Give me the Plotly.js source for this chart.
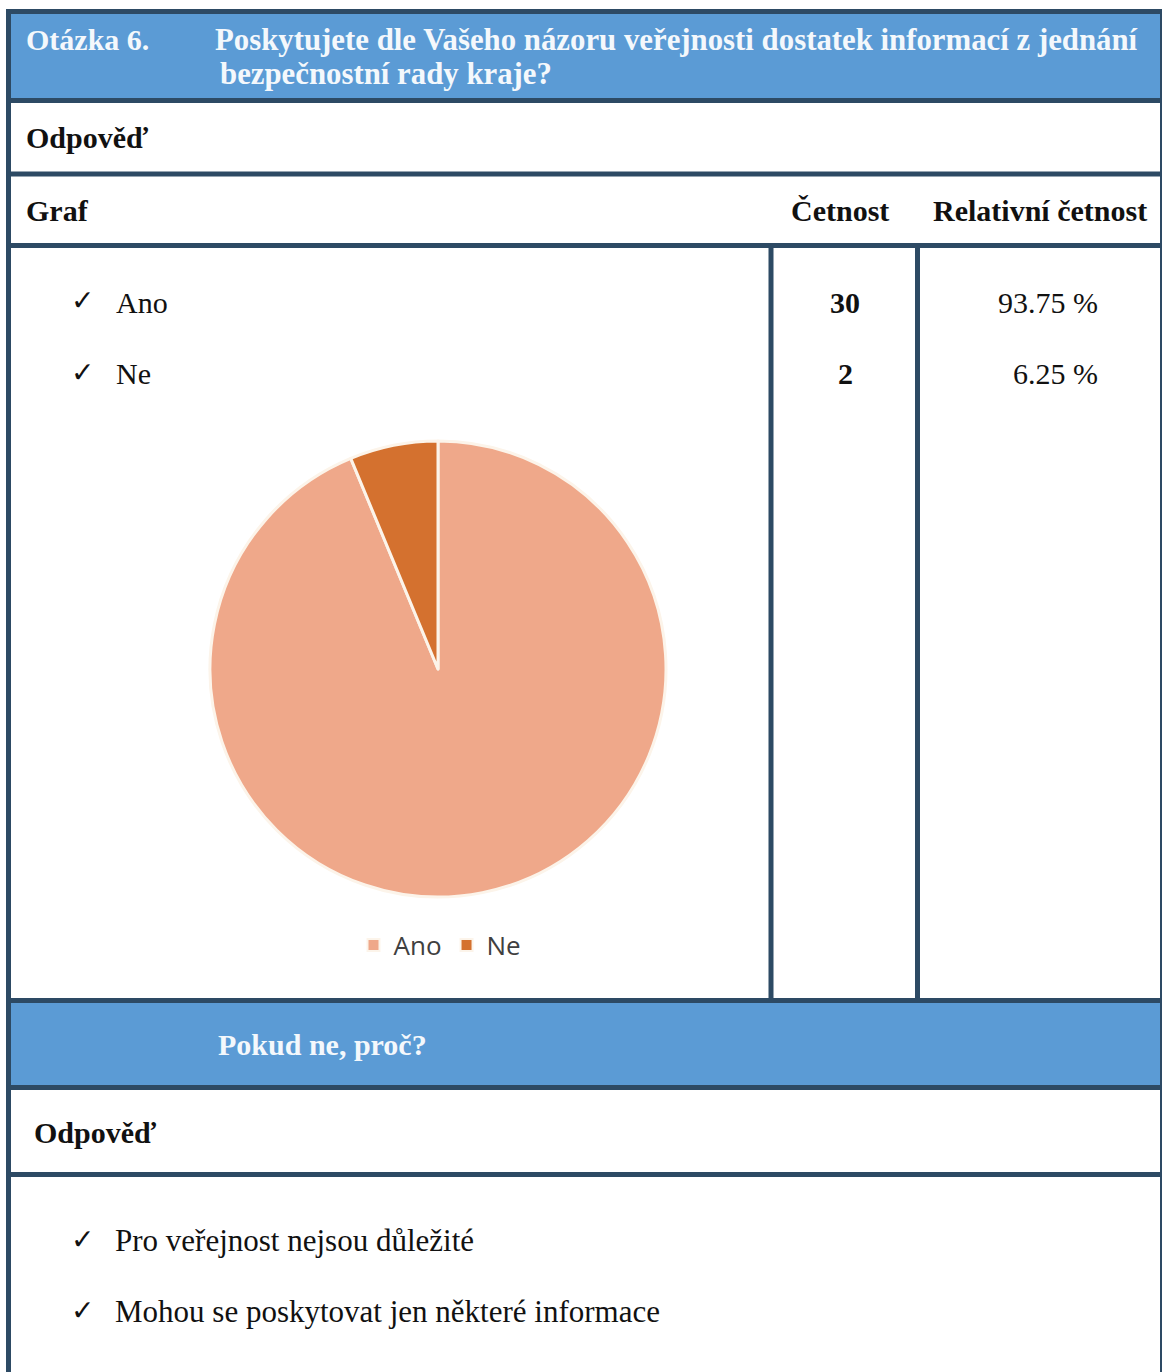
<!DOCTYPE html>
<html><head><meta charset="utf-8">
<script src="https://cdn.plot.ly/plotly-3.0.1.min.js"></script>
<style>html,body{margin:0;padding:0;background:#fff;overflow:hidden}#chart{width:1162px;height:1372px}</style>
</head><body><div id="chart"></div>
<script>
// ---- data ----
const questionNo = "Otázka 6.";
const questionLines = ["Poskytujete dle Vašeho názoru veřejnosti dostatek informací z jednání", "bezpečnostní rady kraje?"];
const answerLabel = "Odpověď";
const graphLabel = "Graf";
const countHeader = "Četnost";
const relHeader = "Relativní četnost";
const categories = ["Ano", "Ne"];
const counts = [30, 2];
const relative = ["93.75 %", "6.25 %"];
const followUp = "Pokud ne, proč?";
const reasons = ["Pro veřejnost nejsou důležité", "Mohou se poskytovat jen některé informace"];
const sliceColors = ["#EFA88A", "#D4712F"];

// ---- geometry helpers (pixels -> paper) ----
const W = 1162, H = 1372;
const X = p => p / W, Y = p => 1 - p / H;
const BORDER = "#2D4A64", BLUE = "#5B9BD5";
const SERIF = "Liberation Serif, Times New Roman, serif";

const shapes = [];
function rect(x0, y0, x1, y1, fill) {
  shapes.push({type: "rect", xref: "paper", yref: "paper", x0: X(x0), x1: X(x1), y0: Y(y1), y1: Y(y0),
    fillcolor: fill, line: {width: 0}, layer: "below"});
}
function hline(y, x0, x1, w) {
  shapes.push({type: "line", xref: "paper", yref: "paper", x0: X(x0), x1: X(x1), y0: Y(y), y1: Y(y),
    line: {color: BORDER, width: w || 5}});
}
function vline(x, y0, y1, w) {
  shapes.push({type: "line", xref: "paper", yref: "paper", x0: X(x), x1: X(x), y0: Y(y0), y1: Y(y1),
    line: {color: BORDER, width: w || 5}});
}
rect(10, 13, 1162, 99, BLUE);
rect(10, 1002, 1162, 1086, BLUE);
[11.5, 100.5, 174, 245.5, 1000.5, 1087.5, 1174.5].forEach(y => hline(y, 6, 1162));
vline(8.5, 9, 1372);
vline(771, 245, 1001);
vline(917.5, 245, 1001);
vline(1161, 9, 1372, 2);

const annotations = [];
function txt(text, x, yMid, o) {
  o = o || {};
  const size = o.size || 30;
  annotations.push({text: text, xref: "paper", yref: "paper", x: X(x), y: Y(yMid),
    xanchor: o.anchor || "left", yanchor: "middle", showarrow: false,
    font: {family: o.family || SERIF, size: size, color: o.color || "#111111", weight: o.bold ? "bold" : "normal"}});
}
const HEAD = "#F4F8FC";
txt(questionNo, 24, 40, {bold: true, color: HEAD});
txt(questionLines[0], 213, 40, {bold: true, color: HEAD, size: 30.8});
txt(questionLines[1], 218, 74, {bold: true, color: HEAD, size: 30.8});
txt(answerLabel, 24, 138, {bold: true});
txt(graphLabel, 24, 210, {bold: true});
txt(countHeader, 840, 210, {bold: true, anchor: "center"});
txt(relHeader, 1040, 210, {bold: true, anchor: "center"});

const rowMid = [302, 373];
categories.forEach((c, i) => {
  txt("✓", 69, rowMid[i] - 1, {family: "DejaVu Sans", size: 28});
  txt(c, 114, rowMid[i]);
  txt(String(counts[i]), 845, rowMid[i], {bold: true, anchor: "center"});
  txt(relative[i], 1100, rowMid[i], {anchor: "right"});
});

txt(followUp, 216, 1044, {bold: true, color: HEAD});
txt(answerLabel, 32, 1132, {bold: true});
const reasonMid = [1240, 1311];
reasons.forEach((r, i) => {
  txt("✓", 69, reasonMid[i] - 1, {family: "DejaVu Sans", size: 28});
  txt(r, 113, reasonMid[i], {size: 31});
});

// ---- pie ----
const cx = 438, cy = 669, R = 228;
const data = [{
  type: "pie", labels: categories, values: counts, sort: false, direction: "clockwise", rotation: 0,
  marker: {colors: sliceColors, line: {color: "#FCF4EA", width: 3}},
  textinfo: "none", hoverinfo: "none",
  domain: {x: [X(cx - R), X(cx + R)], y: [Y(cy + R), Y(cy - R)]}
}];

const layout = {
  width: W, height: H, margin: {l: 0, r: 0, t: 0, b: 0},
  paper_bgcolor: "#FFFFFF", plot_bgcolor: "#FFFFFF",
  showlegend: true,
  legend: {orientation: "h", x: X(440), xanchor: "center", y: Y(945), yanchor: "middle",
    font: {family: "Open Sans, DejaVu Sans, sans-serif", size: 26, color: "#404040"},
    bgcolor: "rgba(0,0,0,0)", itemsizing: "constant", itemwidth: 30},
  shapes: shapes, annotations: annotations
};
Plotly.newPlot("chart", data, layout, {displayModeBar: false, staticPlot: true});
</script>
</body></html>
